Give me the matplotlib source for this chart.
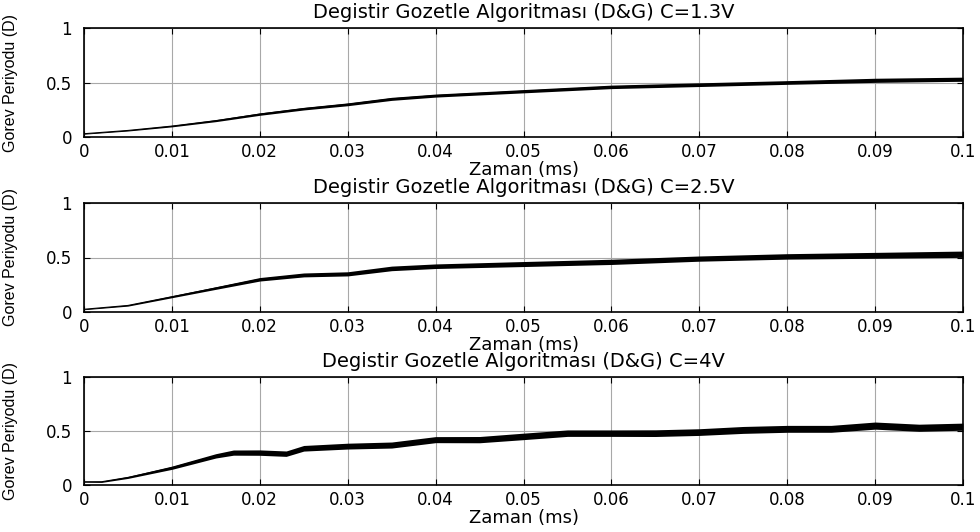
import numpy as np
import matplotlib.pyplot as plt

plt.rcParams['font.family'] = ['DejaVu Sans']

titles = ['Degistir Gozetle Algoritması (D&G) C=1.3V',
          'Degistir Gozetle Algoritması (D&G) C=2.5V',
          'Degistir Gozetle Algoritması (D&G) C=4V']

# duty cycle trend (time in ms), w = half width of the ripple band
t1 = [0, 0.005, 0.01, 0.015, 0.02, 0.025, 0.03, 0.035, 0.04, 0.05, 0.06, 0.07, 0.08, 0.09, 0.1]
d1 = [0.03, 0.06, 0.10, 0.15, 0.21, 0.26, 0.30, 0.35, 0.38, 0.42, 0.46, 0.48, 0.50, 0.52, 0.53]
w1 = [0.004, 0.005, 0.007, 0.009, 0.011, 0.012, 0.013, 0.014, 0.014, 0.015, 0.016, 0.017, 0.017, 0.019, 0.019]

t2 = [0, 0.005, 0.01, 0.015, 0.02, 0.025, 0.03, 0.035, 0.04, 0.045, 0.05, 0.06, 0.07, 0.08, 0.09, 0.1]
d2 = [0.025, 0.06, 0.14, 0.22, 0.30, 0.34, 0.35, 0.40, 0.42, 0.43, 0.44, 0.46, 0.49, 0.51, 0.52, 0.53]
w2 = [0.004, 0.006, 0.009, 0.012, 0.016, 0.018, 0.019, 0.021, 0.021, 0.022, 0.023, 0.024, 0.024, 0.025, 0.027, 0.029]

t3 = [0, 0.002, 0.005, 0.01, 0.015, 0.017, 0.02, 0.023, 0.025, 0.03, 0.035, 0.038, 0.04, 0.045, 0.05,
      0.055, 0.06, 0.065, 0.07, 0.075, 0.08, 0.085, 0.09, 0.095, 0.1]
d3 = [0.03, 0.03, 0.07, 0.16, 0.27, 0.30, 0.30, 0.29, 0.34, 0.36, 0.37, 0.40, 0.42, 0.42, 0.45,
      0.48, 0.48, 0.48, 0.49, 0.51, 0.52, 0.52, 0.55, 0.53, 0.54]
w3 = [0.004, 0.006, 0.009, 0.015, 0.02, 0.024, 0.025, 0.025, 0.026, 0.027, 0.028, 0.028, 0.028, 0.029, 0.03,
      0.03, 0.03, 0.031, 0.031, 0.032, 0.032, 0.032, 0.033, 0.033, 0.033]

xticks = [0, 0.01, 0.02, 0.03, 0.04, 0.05, 0.06, 0.07, 0.08, 0.09, 0.1]
xticklabels = ['0', '0.01', '0.02', '0.03', '0.04', '0.05', '0.06', '0.07', '0.08', '0.09', '0.1']

fig = plt.figure(figsize=(9.8, 5.32), dpi=100)
W, H = 980, 532
boxes = [(28, 137), (203, 312), (377, 485)]
left, right = 84, 963

data = [(t1, d1, w1), (t2, d2, w2), (t3, d3, w3)]
for (top, bot), (t, d, w), title in zip(boxes, data, titles):
    ax = fig.add_axes([left / W, 1 - bot / H, (right - left) / W, (bot - top) / H])
    t = np.array(t); d = np.array(d); w = np.array(w)
    ax.fill_between(t, d - w, d + w, color='black', lw=0)
    ax.plot(t, d, color='black', lw=0.8)
    ax.set_xlim(0, 0.1)
    ax.set_ylim(0, 1)
    ax.set_xticks(xticks)
    ax.set_xticklabels(xticklabels)
    ax.set_yticks([0, 0.5, 1])
    ax.set_yticklabels(['0', '0.5', '1'])
    ax.grid(True, color='#a8a8a8', lw=0.8)
    ax.set_axisbelow(True)
    ax.tick_params(direction='in', top=True, right=True, labelsize=12, length=4)
    ax.tick_params(axis='x', pad=4)
    ax.tick_params(axis='y', pad=8.5)
    for s in ax.spines.values():
        s.set_linewidth(1.2)
    ax.set_title(title, fontsize=14, pad=7)
    ax.set_xlabel('Zaman (ms)', fontsize=13)
    ax.xaxis.set_label_coords(0.5, -24 / (bot - top))
    ax.set_ylabel('Gorev Periyodu (D)', fontsize=11.5, family='Liberation Sans')
    ax.yaxis.set_label_coords(-66 / (right - left), 0.5)

fig.savefig('out.png', dpi=100)
